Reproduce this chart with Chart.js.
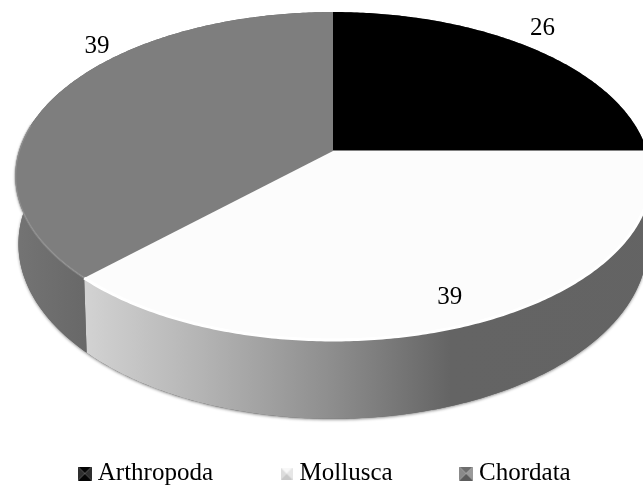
<!DOCTYPE html>
<html>
<head>
<meta charset="utf-8">
<style>html,body{margin:0;padding:0;background:#fff;overflow:hidden}canvas{display:block}</style>
<script src="https://cdn.jsdelivr.net/npm/chart.js@4"></script>
</head>
<body>
<canvas id="c" width="643" height="486"></canvas>
<script>
const categories = ['Arthropoda', 'Mollusca', 'Chordata'];
const values = [26, 39, 39];
const faceColors = ['#000000', '#fcfcfc', '#7e7e7e'];
const labelOffsets = [[9, -20], [-23, -26], [38, -47]];
const markerShades = [
  ['#050505', '#2e2e2e', '#050505', '#2e2e2e', 14],
  ['#f8f8f8', '#e6e6e6', '#c8c8c8', '#dcdcdc', 12],
  ['#6e6e6e', '#9a9a9a', '#5c5c5c', '#8a8a8a', 14]
];
const FONT = '"Liberation Serif","Times New Roman",serif';

// 3D view: perspective projection of the pie circle
const VIEW = { shiftX: 7.5, shiftY: -43, persp: -0.1524, tiltTop: 0.51, scaleBottom: 0.99, tiltBottom: 0.544, depth: 66.3 };

function project(arc, phi, bottom) {
  const u = Math.cos(phi), v = Math.sin(phi), d = 1 + VIEW.persp * v, R = arc.outerRadius;
  const ax = arc.x + VIEW.shiftX, ay = arc.y + VIEW.shiftY + (bottom ? VIEW.depth : 0);
  return [ax + (bottom ? VIEW.scaleBottom : 1) * R * u / d,
          ay + (bottom ? VIEW.tiltBottom : VIEW.tiltTop) * R * v / d];
}
function traceRim(ctx, arc, a0, a1, bottom, move) {
  const n = Math.max(8, Math.ceil(Math.abs(a1 - a0) * 90));
  for (let i = 0; i <= n; i++) {
    const p = project(arc, a0 + (a1 - a0) * i / n, bottom);
    if (i === 0 && move) ctx.moveTo(p[0], p[1]); else ctx.lineTo(p[0], p[1]);
  }
}

// Slices keep the library's angles and colours; only the path is projected.
Chart.ArcElement.prototype.draw = function (ctx) {
  ctx.save();
  ctx.beginPath();
  ctx.moveTo(this.x + VIEW.shiftX, this.y + VIEW.shiftY);
  traceRim(ctx, this, this.startAngle, this.endAngle, false, false);
  ctx.closePath();
  ctx.fillStyle = this.options.backgroundColor;
  ctx.fill();
  ctx.restore();
};

const wallPlugin = {
  id: 'wall',
  beforeDatasetsDraw(chart) {
    const ctx = chart.ctx, arcs = chart.getDatasetMeta(0).data;
    ctx.save();
    // soft shadow under the visible front of the wall
    ctx.save();
    ctx.beginPath();
    traceRim(ctx, arcs[1], -0.05, Math.PI + 0.2, false, true);
    traceRim(ctx, arcs[1], Math.PI + 0.2, -0.05, true, false);
    ctx.closePath();
    ctx.shadowColor = 'rgba(0,0,0,0.45)';
    ctx.shadowBlur = 3;
    ctx.shadowOffsetY = 1;
    ctx.fillStyle = '#666666';
    ctx.fill();
    ctx.restore();
    arcs.forEach((arc, i) => {
      const x0 = project(arc, Math.PI * 0.75, true)[0];
      let fill;
      if (i === 1) {
        fill = ctx.createLinearGradient(x0, 0, x0 + 715, 0);
        fill.addColorStop(0, '#d2d2d2');
        fill.addColorStop(0.16, '#b4b4b4');
        fill.addColorStop(0.34, '#8e8e8e');
        fill.addColorStop(0.51, '#646464');
        fill.addColorStop(1, '#636363');
      } else if (i === 2) {
        fill = ctx.createLinearGradient(15, 0, x0, 0);
        fill.addColorStop(0, '#747474');
        fill.addColorStop(1, '#686868');
      } else {
        fill = '#636363';
      }
      ctx.beginPath();
      traceRim(ctx, arc, arc.startAngle, arc.endAngle, false, true);
      traceRim(ctx, arc, arc.endAngle, arc.startAngle, true, false);
      ctx.closePath();
      ctx.fillStyle = fill;
      ctx.fill();
    });
    ctx.restore();
  },
  afterDatasetsDraw(chart) {
    const ctx = chart.ctx, arcs = chart.getDatasetMeta(0).data;
    ctx.save();
    // bevel on the front edge of the faces
    ctx.lineJoin = 'round';
    ctx.strokeStyle = 'rgba(255,255,255,1)';
    ctx.lineWidth = 3;
    ctx.beginPath();
    traceRim(ctx, arcs[1], arcs[1].startAngle + 0.02, arcs[1].endAngle, false, true);
    ctx.stroke();
    ctx.strokeStyle = 'rgba(165,165,165,0.4)';
    ctx.lineWidth = 2;
    ctx.beginPath();
    traceRim(ctx, arcs[2], arcs[2].startAngle, arcs[2].startAngle + 0.95, false, true);
    ctx.stroke();
    // seam between the dark and light face
    ctx.strokeStyle = '#808080';
    ctx.lineWidth = 1;
    ctx.beginPath();
    const ap = [arcs[1].x + VIEW.shiftX, arcs[1].y + VIEW.shiftY];
    const e = project(arcs[1], arcs[1].startAngle, false);
    ctx.moveTo(ap[0], ap[1] - 0.5);
    ctx.lineTo(e[0], e[1] - 0.5);
    ctx.stroke();
    // value labels
    ctx.fillStyle = '#000';
    ctx.font = '25px ' + FONT;
    ctx.textAlign = 'center';
    ctx.textBaseline = 'middle';
    arcs.forEach((arc, i) => {
      const mid = (arc.startAngle + arc.endAngle) / 2, p = project(arc, mid, false);
      ctx.fillText(String(values[i]), p[0] + labelOffsets[i][0], p[1] + labelOffsets[i][1]);
    });
    ctx.restore();
  }
};

function marker(s) {
  const z = s[4], cv = document.createElement('canvas');
  cv.width = cv.height = z;
  const g = cv.getContext('2d'), m = z / 2;
  const tri = [[0, 0, z, 0], [z, 0, z, z], [z, z, 0, z], [0, z, 0, 0]];
  tri.forEach((t, i) => {
    g.fillStyle = s[i];
    g.beginPath(); g.moveTo(t[0], t[1]); g.lineTo(t[2], t[3]); g.lineTo(m, m); g.closePath(); g.fill();
  });
  return cv;
}
const markers = markerShades.map(marker);

new Chart(document.getElementById('c'), {
  type: 'pie',
  data: {
    labels: categories,
    datasets: [{ data: values, backgroundColor: faceColors, borderWidth: 0, radius: 314 }]
  },
  options: {
    responsive: false,
    animation: false,
    layout: { padding: { left: 8, right: -4, bottom: -10 } },
    plugins: {
      tooltip: { enabled: false },
      legend: {
        position: 'bottom',
        labels: {
          usePointStyle: true,
          boxWidth: 1,
          padding: 73,
          color: '#000',
          font: { family: FONT, size: 25 },
          generateLabels: () => categories.map((t, i) => ({
            text: t, pointStyle: markers[i], fillStyle: faceColors[i], strokeStyle: faceColors[i],
            lineWidth: 0, hidden: false, index: i, fontColor: '#000'
          }))
        }
      }
    }
  },
  plugins: [wallPlugin]
});
</script>
</body>
</html>
